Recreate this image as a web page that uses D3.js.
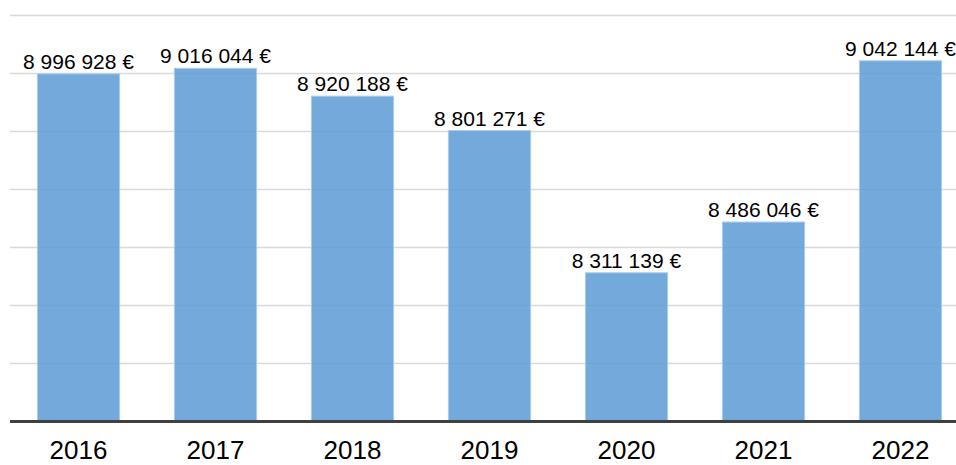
<!DOCTYPE html>
<meta charset="utf-8">
<title>Bars 2016-2022</title>
<style>
  body { margin: 0; background: #fff; }
  text { font-family: "Liberation Sans", Arial, sans-serif; fill: #000; }
  .grid line { stroke: #d9d9d9; stroke-width: 1.5px; }
  .bar { fill: #5b9bd5; fill-opacity: 0.85; stroke: #a9cdee; stroke-width: 1px; }
</style>
<body>
<script src="https://cdn.jsdelivr.net/npm/d3@7"></script>
<script>

var years = ["2016", "2017", "2018", "2019", "2020", "2021", "2022"];
var values = [8996928, 9016044, 8920188, 8801271, 8311139, 8486046, 9042144];
var gridTicks = [7800000, 8000000, 8200000, 8400000, 8600000, 8800000, 9000000, 9200000];

var width = 956,
    height = 465;

var svg = d3.select("body").append("svg")
    .attr("width", width)
    .attr("height", height);

var x = d3.scaleBand()
    .domain(years)
    .range([10, 969])
    .paddingInner(0.4)
    .paddingOuter(0.2);

var y = d3.scaleLinear()
    .domain([7800000, 9200000])
    .range([421, 15]);

// gridlines
svg.append("g").attr("class", "grid")
  .selectAll("line")
  .data(gridTicks)
  .enter().append("line")
    .attr("x1", 10)
    .attr("x2", width)
    .attr("y1", function(d) { return Math.round(y(d)) + 0.5; })
    .attr("y2", function(d) { return Math.round(y(d)) + 0.5; });

// bars
svg.selectAll(".bar")
  .data(values)
  .enter().append("rect")
    .attr("class", "bar")
    .attr("x", function(d, i) { return x(years[i]); })
    .attr("width", x.bandwidth())
    .attr("y", function(d) { return y(d); })
    .attr("height", function(d) { return y(7800000) - y(d); });

// value labels
var fmt = function(v) {
  return d3.format(",")(v).replace(/,/g, " ") + " €";
};

svg.selectAll(".value")
  .data(values)
  .enter().append("text")
    .attr("class", "value")
    .attr("x", function(d, i) { return x(years[i]) + x.bandwidth() / 2; })
    .attr("y", function(d) { return y(d) - 5; })
    .attr("text-anchor", "middle")
    .style("font-size", "21px")
    .text(fmt);

// baseline
svg.append("line")
    .attr("x1", 10)
    .attr("x2", width)
    .attr("y1", y(7800000) + 0.5)
    .attr("y2", y(7800000) + 0.5)
    .attr("stroke", "#404040")
    .attr("stroke-width", 3);

// category axis labels
svg.selectAll(".year")
  .data(years)
  .enter().append("text")
    .attr("class", "year")
    .attr("x", function(d) { return x(d) + x.bandwidth() / 2; })
    .attr("y", 459)
    .attr("text-anchor", "middle")
    .style("font-size", "26px")
    .text(function(d) { return d; });

</script>
</body>
